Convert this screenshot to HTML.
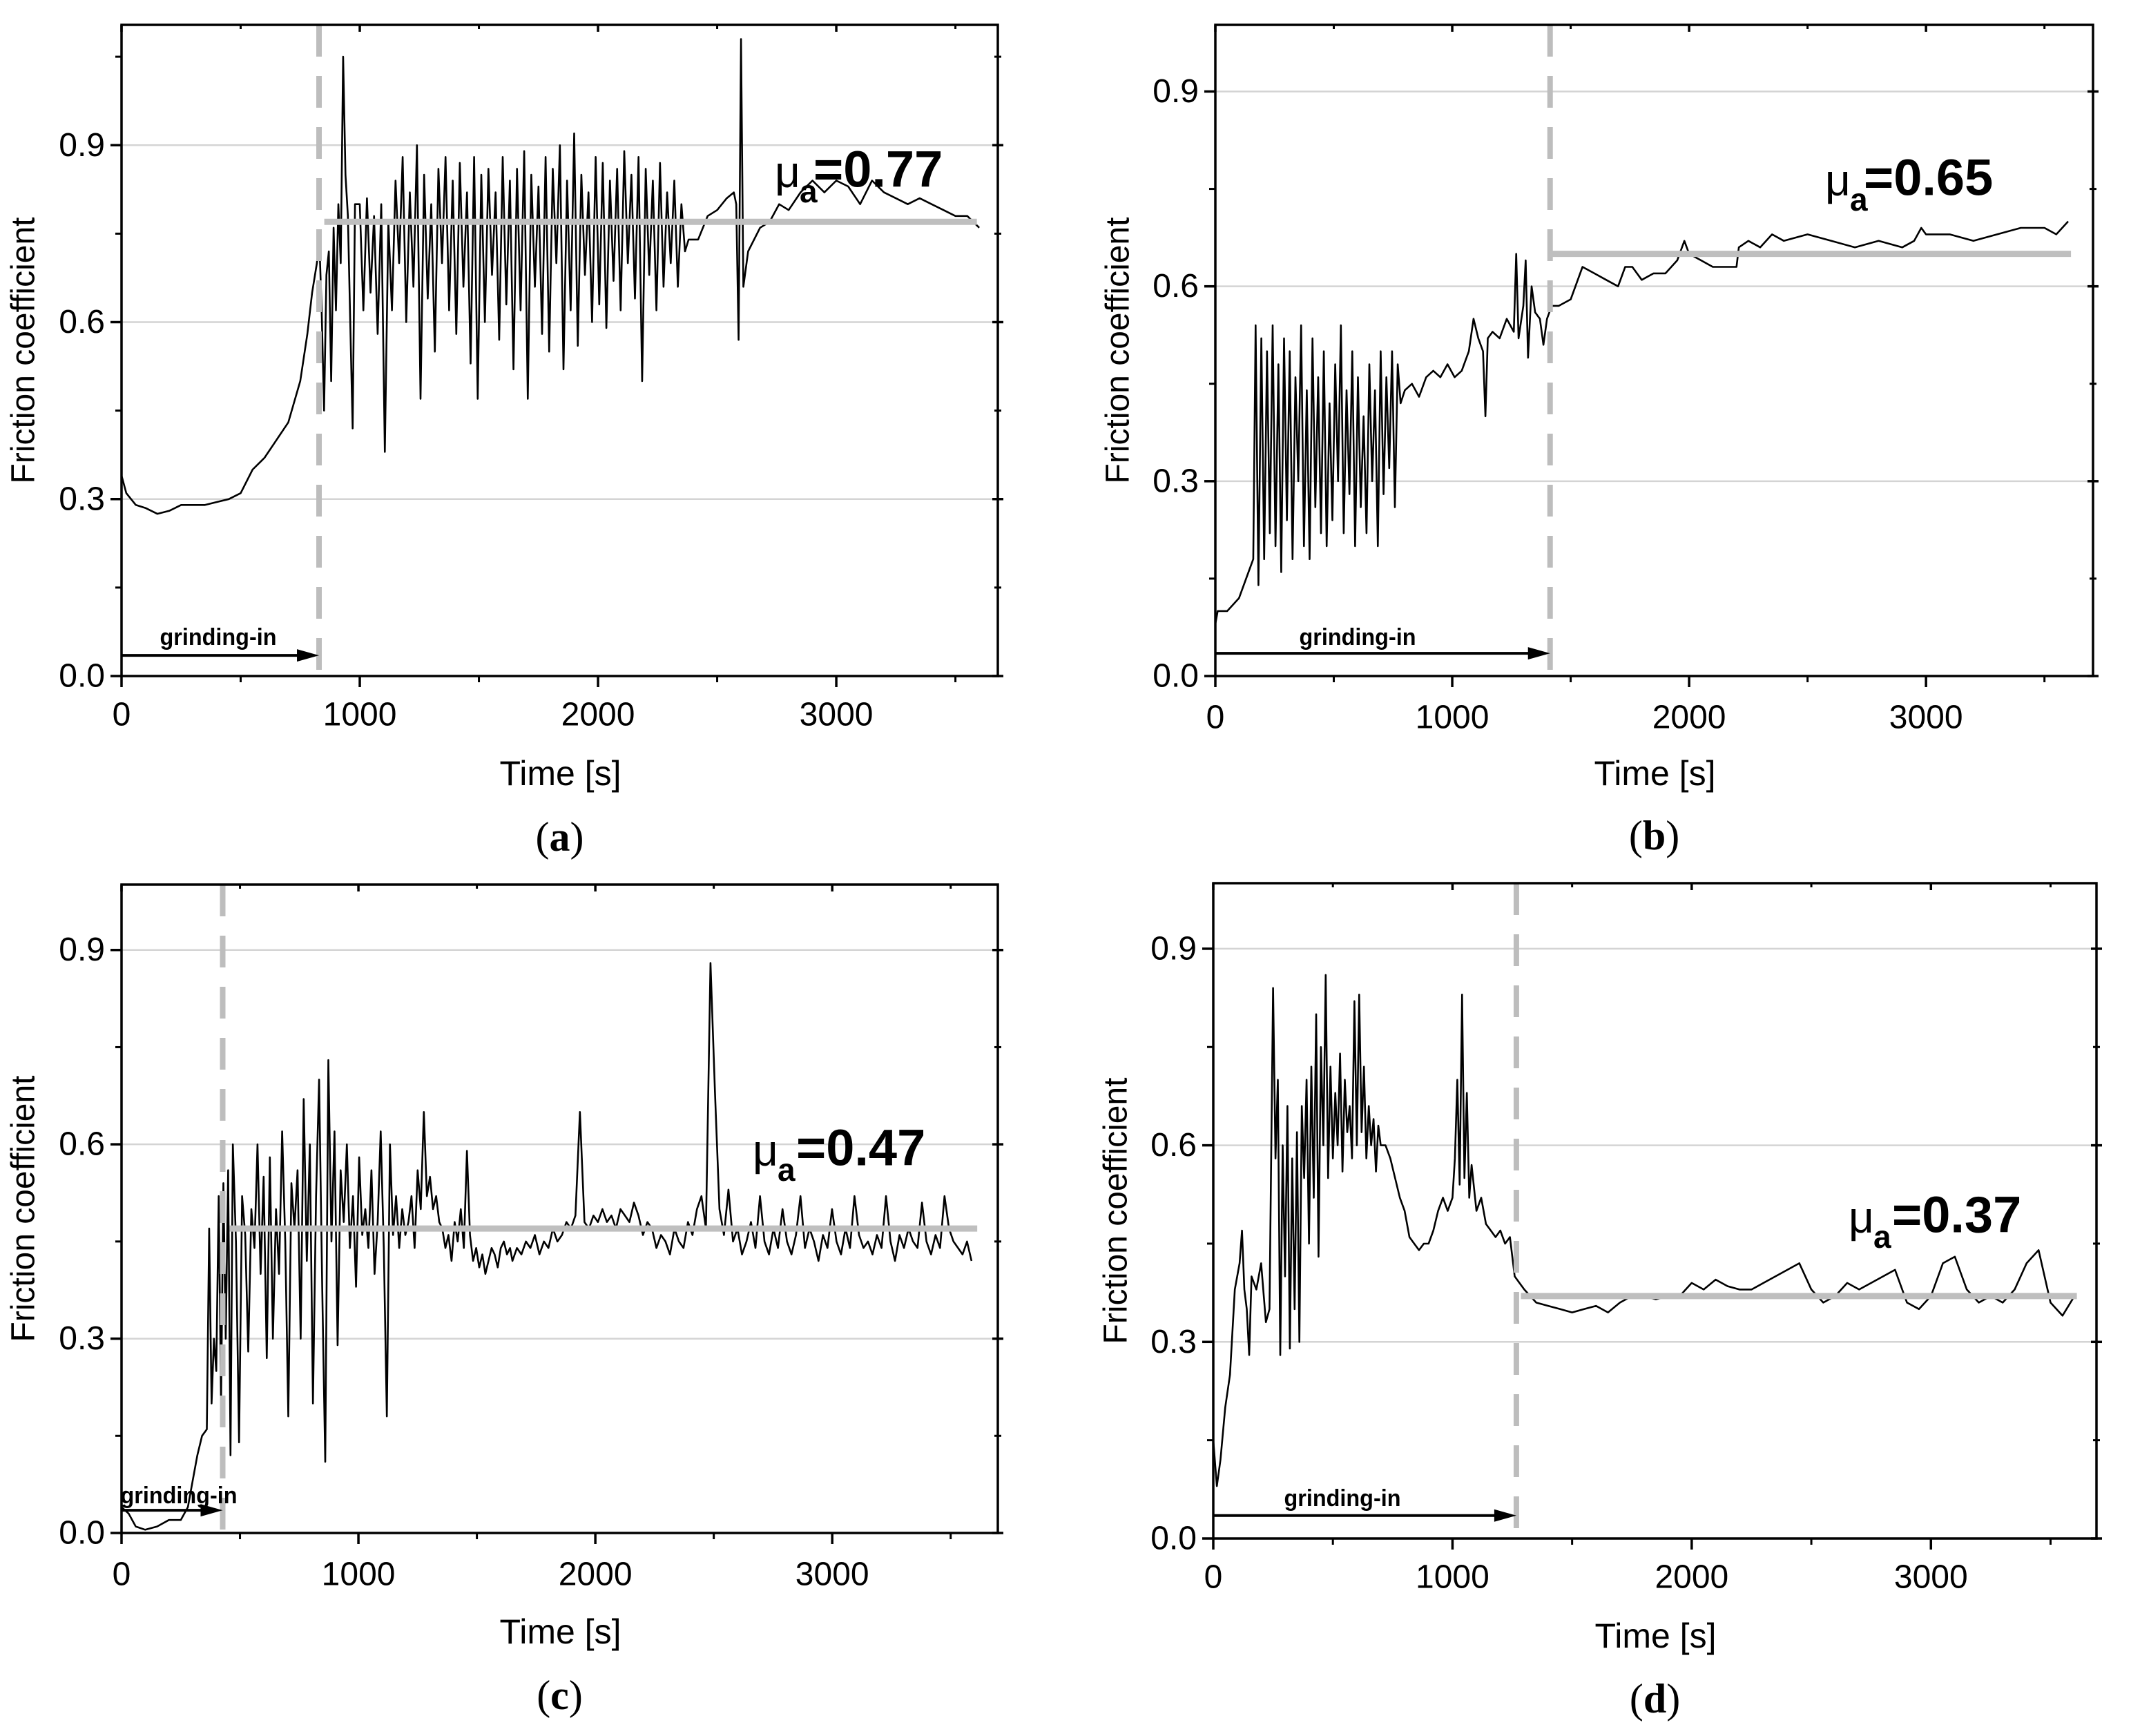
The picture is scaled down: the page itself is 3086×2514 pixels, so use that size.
<!DOCTYPE html>
<html><head><meta charset="utf-8"><style>
html,body{margin:0;padding:0;background:#fff;}
svg{display:block;}
text{font-family:"Liberation Sans",Arial,sans-serif;}
text.cap{font-family:"Liberation Serif","Times New Roman",serif;}
</style></head><body>
<svg id="fig" xmlns="http://www.w3.org/2000/svg" width="3086" height="2514" viewBox="0 0 3086 2514"></svg>
<script>
// ---------- Panel (a) data ----------
const aTimes = [0,20,60,100,150,200,250,300,350,400,450,500,550,600,650,700,750,780,800,820,830,840,850,860,870,880,890,900,910,920,930,940,950,960,970,980];
const aValues = [0.34,0.31,0.29,0.285,0.275,0.28,0.29,0.29,0.29,0.295,0.30,0.31,0.35,0.37,0.40,0.43,0.50,0.58,0.65,0.70,0.74,0.62,0.45,0.68,0.72,0.50,0.76,0.62,0.80,0.70,1.05,0.85,0.78,0.60,0.42,0.80];
const aSpikeStart = 1000, aSpikeStep = 15;
const aSpikeValues = [0.80,0.62,0.81,0.65,0.78,0.58,0.80,0.38,0.77,0.62,0.84,0.70,0.88,0.60,0.82,0.66,0.90,0.47,0.85,0.64,0.80,0.55,0.86,0.70,0.88,0.62,0.84,0.58,0.87,0.66,0.82,0.53,0.88,0.47,0.85,0.60,0.86,0.68,0.82,0.57,0.88,0.63,0.84,0.52,0.86,0.62,0.89,0.47,0.85,0.66,0.83,0.58,0.88,0.55,0.86,0.70,0.90,0.52,0.84,0.62,0.92,0.56,0.85,0.68,0.82,0.60,0.88,0.63,0.87,0.59,0.84,0.67,0.86,0.62,0.89,0.70,0.85,0.64,0.88,0.50,0.86,0.68,0.84,0.62,0.87,0.66,0.82,0.70,0.84,0.66,0.80,0.72,0.74];
const aTailTimes = [2420,2460,2500,2540,2570,2580,2590,2600,2610,2630,2680,2720,2760,2800,2850,2900,2950,3000,3050,3100,3150,3200,3250,3300,3350,3400,3450,3500,3550,3600];
const aTailValues = [0.74,0.78,0.79,0.81,0.82,0.80,0.57,1.08,0.66,0.72,0.76,0.77,0.80,0.79,0.82,0.84,0.82,0.84,0.83,0.80,0.84,0.82,0.81,0.80,0.81,0.80,0.79,0.78,0.78,0.76];

// ---------- Panel (b) data ----------
const bTimes = [0,10,50,100,140,160];
const bValues = [0.08,0.10,0.10,0.12,0.16,0.18];
const bSpikeStart = 170, bSpikeStep = 12;
const bSpikeValues = [0.54,0.14,0.52,0.18,0.50,0.22,0.54,0.20,0.48,0.16,0.52,0.24,0.50,0.18,0.46,0.30,0.54,0.20,0.44,0.18,0.52,0.26,0.46,0.22,0.50,0.20,0.42,0.24,0.48,0.30,0.54,0.22,0.44,0.28,0.50,0.20,0.46,0.26,0.40,0.22,0.48,0.30,0.44,0.20,0.50,0.28,0.46,0.32,0.50,0.26,0.48,0.42];
const bTailTimes = [800,830,860,890,920,950,980,1010,1040,1070,1090,1110,1130,1140,1150,1170,1200,1230,1260,1270,1280,1300,1310,1320,1335,1350,1370,1385,1400,1420,1450,1500,1550,1600,1650,1700,1730,1760,1800,1850,1900,1950,1980,2000,2050,2100,2150,2200,2210,2250,2300,2350,2400,2500,2600,2700,2800,2900,2950,2980,3000,3100,3200,3300,3400,3500,3550,3600];
const bTailValues = [0.44,0.45,0.43,0.46,0.47,0.46,0.48,0.46,0.47,0.50,0.55,0.52,0.50,0.40,0.52,0.53,0.52,0.55,0.53,0.65,0.52,0.57,0.64,0.49,0.60,0.56,0.55,0.51,0.55,0.57,0.57,0.58,0.63,0.62,0.61,0.60,0.63,0.63,0.61,0.62,0.62,0.64,0.67,0.65,0.64,0.63,0.63,0.63,0.66,0.67,0.66,0.68,0.67,0.68,0.67,0.66,0.67,0.66,0.67,0.69,0.68,0.68,0.67,0.68,0.69,0.69,0.68,0.70];

// ---------- Panel (c) data ----------
const cTimes = [0,30,60,100,150,200,250,280,300,320,340,360,370,380,390,400,410,420,430,440,450,460];
const cValues = [0.04,0.03,0.01,0.005,0.01,0.02,0.02,0.04,0.08,0.12,0.15,0.16,0.47,0.20,0.30,0.25,0.52,0.20,0.54,0.30,0.56,0.12];
const cSpikeStart = 470, cSpikeStep = 13;
const cSpikeValues = [0.60,0.45,0.14,0.52,0.46,0.28,0.50,0.44,0.60,0.40,0.55,0.27,0.58,0.30,0.50,0.40,0.62,0.45,0.18,0.54,0.47,0.56,0.30,0.67,0.42,0.60,0.20,0.52,0.70,0.38,0.11,0.73,0.45,0.62,0.29,0.56,0.48,0.60,0.44,0.52,0.38,0.58,0.46,0.50,0.44,0.56,0.40,0.48,0.62,0.44,0.18,0.60,0.46,0.52,0.44,0.50,0.46,0.48,0.52,0.44,0.56,0.50,0.65,0.52,0.55,0.50,0.52,0.48,0.47,0.44,0.46,0.42,0.48,0.45,0.50,0.44,0.59,0.46,0.42,0.44,0.41,0.43,0.40,0.42,0.44,0.43,0.41,0.44,0.45,0.43,0.44];
const cTailStart = 1650, cTailStep = 19;
const cTailValues = [0.42,0.44,0.43,0.45,0.44,0.46,0.43,0.45,0.44,0.47,0.45,0.46,0.48,0.47,0.49,0.65,0.48,0.47,0.49,0.48,0.50,0.48,0.49,0.47,0.50,0.49,0.48,0.51,0.49,0.46,0.48,0.47,0.44,0.46,0.45,0.43,0.47,0.45,0.44,0.48,0.46,0.50,0.52,0.47,0.88,0.68,0.50,0.46,0.53,0.45,0.47,0.43,0.45,0.48,0.44,0.52,0.45,0.43,0.47,0.44,0.50,0.45,0.43,0.46,0.52,0.44,0.47,0.45,0.42,0.46,0.44,0.50,0.45,0.43,0.47,0.44,0.52,0.46,0.44,0.45,0.43,0.46,0.44,0.52,0.45,0.42,0.46,0.44,0.47,0.45,0.44,0.51,0.45,0.43,0.46,0.44,0.52,0.47,0.45,0.44,0.43,0.45,0.42];

// ---------- Panel (d) data ----------
const dTimes = [0,15,30,50,70,90,110,120,130,140,150,160,180,200,220,235,250];
const dValues = [0.15,0.08,0.12,0.20,0.25,0.38,0.42,0.47,0.38,0.35,0.28,0.40,0.38,0.42,0.33,0.35,0.84];
const dSpikeStart = 260, dSpikeStep = 10;
const dSpikeValues = [0.58,0.70,0.28,0.60,0.40,0.66,0.29,0.58,0.35,0.62,0.30,0.66,0.55,0.70,0.45,0.72,0.52,0.80,0.43,0.75,0.60,0.86,0.55,0.72,0.58,0.68,0.60,0.74,0.56,0.70,0.62,0.66,0.58,0.82,0.60,0.83,0.62,0.72,0.58,0.66,0.60,0.64,0.56,0.63,0.60];
const dTailTimes = [720,740,760,780,800,820,840,860,880,900,920,940,960,980,1000,1010,1020,1030,1040,1050,1060,1070,1080,1100,1120,1140,1160,1180,1200,1220,1240,1260,1280,1300,1350,1400,1450,1500,1550,1600,1650,1700,1750,1800,1850,1900,1950,2000,2050,2100,2150,2200,2250,2300,2350,2400,2450,2500,2550,2600,2650,2700,2750,2800,2850,2900,2950,3000,3050,3100,3150,3200,3250,3300,3350,3400,3450,3500,3550,3600];
const dTailValues = [0.60,0.58,0.55,0.52,0.50,0.46,0.45,0.44,0.45,0.45,0.47,0.50,0.52,0.50,0.52,0.58,0.70,0.54,0.83,0.55,0.68,0.52,0.57,0.50,0.52,0.48,0.47,0.46,0.47,0.45,0.46,0.40,0.39,0.38,0.36,0.355,0.35,0.345,0.35,0.355,0.345,0.36,0.37,0.37,0.365,0.37,0.37,0.39,0.38,0.395,0.385,0.38,0.38,0.39,0.40,0.41,0.42,0.38,0.36,0.37,0.39,0.38,0.39,0.40,0.41,0.36,0.35,0.37,0.42,0.43,0.38,0.36,0.37,0.36,0.38,0.42,0.44,0.36,0.34,0.37];

// ---------- annotation values ----------
const meanValues = [0.77, 0.65, 0.47, 0.37];
const meanStarts = [851, 1413, 456, 1286];
const meanEnds = [3590, 3612, 3612, 3610];
const grindEnds = [829, 1413, 427, 1267];
const xTicks = [0, 1000, 2000, 3000];
const xMinor = [500, 1500, 2500, 3500];
const yTicks = [0.0, 0.3, 0.6, 0.9];
const yMinor = [0.15, 0.45, 0.75, 1.05];
const captions = ['a','b','c','d'];

function build(times, values, spikeStart, spikeStep, spikeValues, tailTimes, tailValues, tail2Start, tail2Step){
  const t = times.slice(), v = values.slice();
  spikeValues.forEach((val,i)=>{ t.push(spikeStart + i*spikeStep); v.push(val); });
  if (tailTimes) tailTimes.forEach((tt,i)=>{ t.push(tt); v.push(tailValues[i]); });
  else tailValues.forEach((val,i)=>{ t.push(tail2Start + i*tail2Step); v.push(val); });
  return {t, v};
}
const series = [
  build(aTimes,aValues,aSpikeStart,aSpikeStep,aSpikeValues,aTailTimes,aTailValues),
  build(bTimes,bValues,bSpikeStart,bSpikeStep,bSpikeValues,bTailTimes,bTailValues),
  build(cTimes,cValues,cSpikeStart,cSpikeStep,cSpikeValues,null,cTailValues,cTailStart,cTailStep),
  build(dTimes,dValues,dSpikeStart,dSpikeStep,dSpikeValues,dTailTimes,dTailValues)
];

// layout (pixels), not data
const layout = [
  {L:176,R:1445,T:36,B:979,xmax:3678,ymax:1.104, ylx:34, xly:1120, tly:1035, cap:1212, gx:316, gy:923, mu:[1122,1178,245]},
  {L:1760,R:3031,T:36,B:979,xmax:3705,ymax:1.0026, ylx:1619, xly:1120, tly:1039, cap:1210, gx:1966, gy:923, mu:[2643,2699,257]},
  {L:176,R:1445,T:1281,B:2220,xmax:3699,ymax:1.001, ylx:34, xly:2363, tly:2280, cap:2455, gx:259, gy:2166, mu:[1090,1153,1662]},
  {L:1757,R:3036,T:1279,B:2228,xmax:3692,ymax:1.0, ylx:1616, xly:2369, tly:2284, cap:2460, gx:1944, gy:2170, mu:[2677,2740,1759]}
];

const NS='http://www.w3.org/2000/svg';
const svg=document.getElementById('fig');
function mk(tag, attrs, parent){
  const e=document.createElementNS(NS,tag);
  for(const k in attrs) e.setAttribute(k,attrs[k]);
  (parent||svg).appendChild(e); return e;
}

layout.forEach((P,pi)=>{
  const g=mk('g',{});
  
  
  const X=t=>P.L+(t/P.xmax)*(P.R-P.L);
  const Y=v=>P.B-(v/P.ymax)*(P.B-P.T);
  yTicks.slice(1).forEach(v=>{
    const l=mk('line',{x1:P.L,x2:P.R,y1:Y(v),y2:Y(v),stroke:'#d4d4d4','stroke-width':2.5},g);
    
    
  });
  const s=series[pi];
  let d='';
  s.t.forEach((t,i)=>{ d+=(i?'L':'M')+X(t).toFixed(1)+' '+Y(s.v[i]).toFixed(1); });
  const path=mk('path',{d:d,fill:'none',stroke:'#000','stroke-width':2.6,'stroke-linejoin':'round'},g);
  
  
  const dl=mk('line',{x1:X(grindEnds[pi]),x2:X(grindEnds[pi]),y1:P.T,y2:P.B,stroke:'#bdbdbd','stroke-width':8,'stroke-dasharray':'46 28'},g);
  
  
  const ml=mk('line',{x1:X(meanStarts[pi]),x2:X(meanEnds[pi]),y1:Y(meanValues[pi]),y2:Y(meanValues[pi]),stroke:'#bfbfbf','stroke-width':9},g);
  
  
  const ay=Y(0.035), ax2=X(grindEnds[pi]);
  const al=mk('line',{x1:P.L,x2:ax2-30,y1:ay,y2:ay,stroke:'#000','stroke-width':4},g);
  
  
  const ah=mk('polygon',{points:`${ax2},${ay} ${ax2-32},${ay-9} ${ax2-32},${ay+9}`,fill:'#000'},g);
  
  
  const gt=mk('text',{x:P.gx,y:P.gy,'font-size':34,'font-weight':'bold','text-anchor':'middle','dominant-baseline':'central',textLength:169,lengthAdjust:'spacingAndGlyphs'},g);
  gt.textContent='grinding-in';
  
  
  const fr=mk('rect',{x:P.L,y:P.T,width:P.R-P.L,height:P.B-P.T,fill:'none',stroke:'#000','stroke-width':3.5},g);
  
  
  yTicks.forEach(v=>{
    mk('line',{x1:P.L-16,x2:P.L,y1:Y(v),y2:Y(v),stroke:'#000','stroke-width':3.5},g);
    mk('line',{x1:P.R-8,x2:P.R+8,y1:Y(v),y2:Y(v),stroke:'#000','stroke-width':3.5},g);
    const tl=mk('text',{x:P.L-24,y:Y(v),'font-size':48,'text-anchor':'end','dominant-baseline':'central'},g);
    tl.textContent=v.toFixed(1);
    
    
  });
  yMinor.forEach(v=>{ if(v<P.ymax){
    mk('line',{x1:P.L-9,x2:P.L,y1:Y(v),y2:Y(v),stroke:'#000','stroke-width':3},g);
    mk('line',{x1:P.R-5,x2:P.R+5,y1:Y(v),y2:Y(v),stroke:'#000','stroke-width':3},g);
  }});
  xTicks.forEach(t=>{
    mk('line',{x1:X(t),x2:X(t),y1:P.B,y2:P.B+16,stroke:'#000','stroke-width':3.5},g);
    mk('line',{x1:X(t),x2:X(t),y1:P.T,y2:P.T+10,stroke:'#000','stroke-width':3.5},g);
    const tl=mk('text',{x:X(t),y:P.tly,'font-size':48,'text-anchor':'middle','dominant-baseline':'central'},g);
    tl.textContent=String(t);
    
    
  });
  xMinor.forEach(t=>{
    mk('line',{x1:X(t),x2:X(t),y1:P.B,y2:P.B+9,stroke:'#000','stroke-width':3},g);
    mk('line',{x1:X(t),x2:X(t),y1:P.T,y2:P.T+6,stroke:'#000','stroke-width':3},g);
  });
  const cx=(P.L+P.R)/2, cy=(P.T+P.B)/2;
  const yt=mk('text',{x:P.ylx,y:cy,'font-size':48,'text-anchor':'middle','dominant-baseline':'central',transform:`rotate(-90 ${P.ylx} ${cy})`},g);
  yt.textContent='Friction coefficient';
  
  
  const xt=mk('text',{x:cx+1,y:P.xly,'font-size':50,'text-anchor':'middle','dominant-baseline':'central'},g);
  xt.textContent='Time [s]';
  
  
  const m1=mk('text',{x:P.mu[0],y:P.mu[2]+26,'font-size':64},g);
  m1.textContent='μ';
  
  
  const m2=mk('text',{x:P.mu[0]+36,y:P.mu[2]+48,'font-size':46,'font-weight':'bold'},g);
  m2.textContent='a';
  
  
  const m3=mk('text',{x:P.mu[1],y:P.mu[2],'font-size':74,'font-weight':'bold','dominant-baseline':'central'},g);
  m3.textContent='='+meanValues[pi].toFixed(2);
  
  
  const cp=mk('text',{x:cx,y:P.cap,'font-size':60,'text-anchor':'middle','dominant-baseline':'central','class':'cap'},g);
  cp.innerHTML='(<tspan font-weight="bold">'+captions[pi]+'</tspan>)';
  
  
});
</script>
</body></html>
